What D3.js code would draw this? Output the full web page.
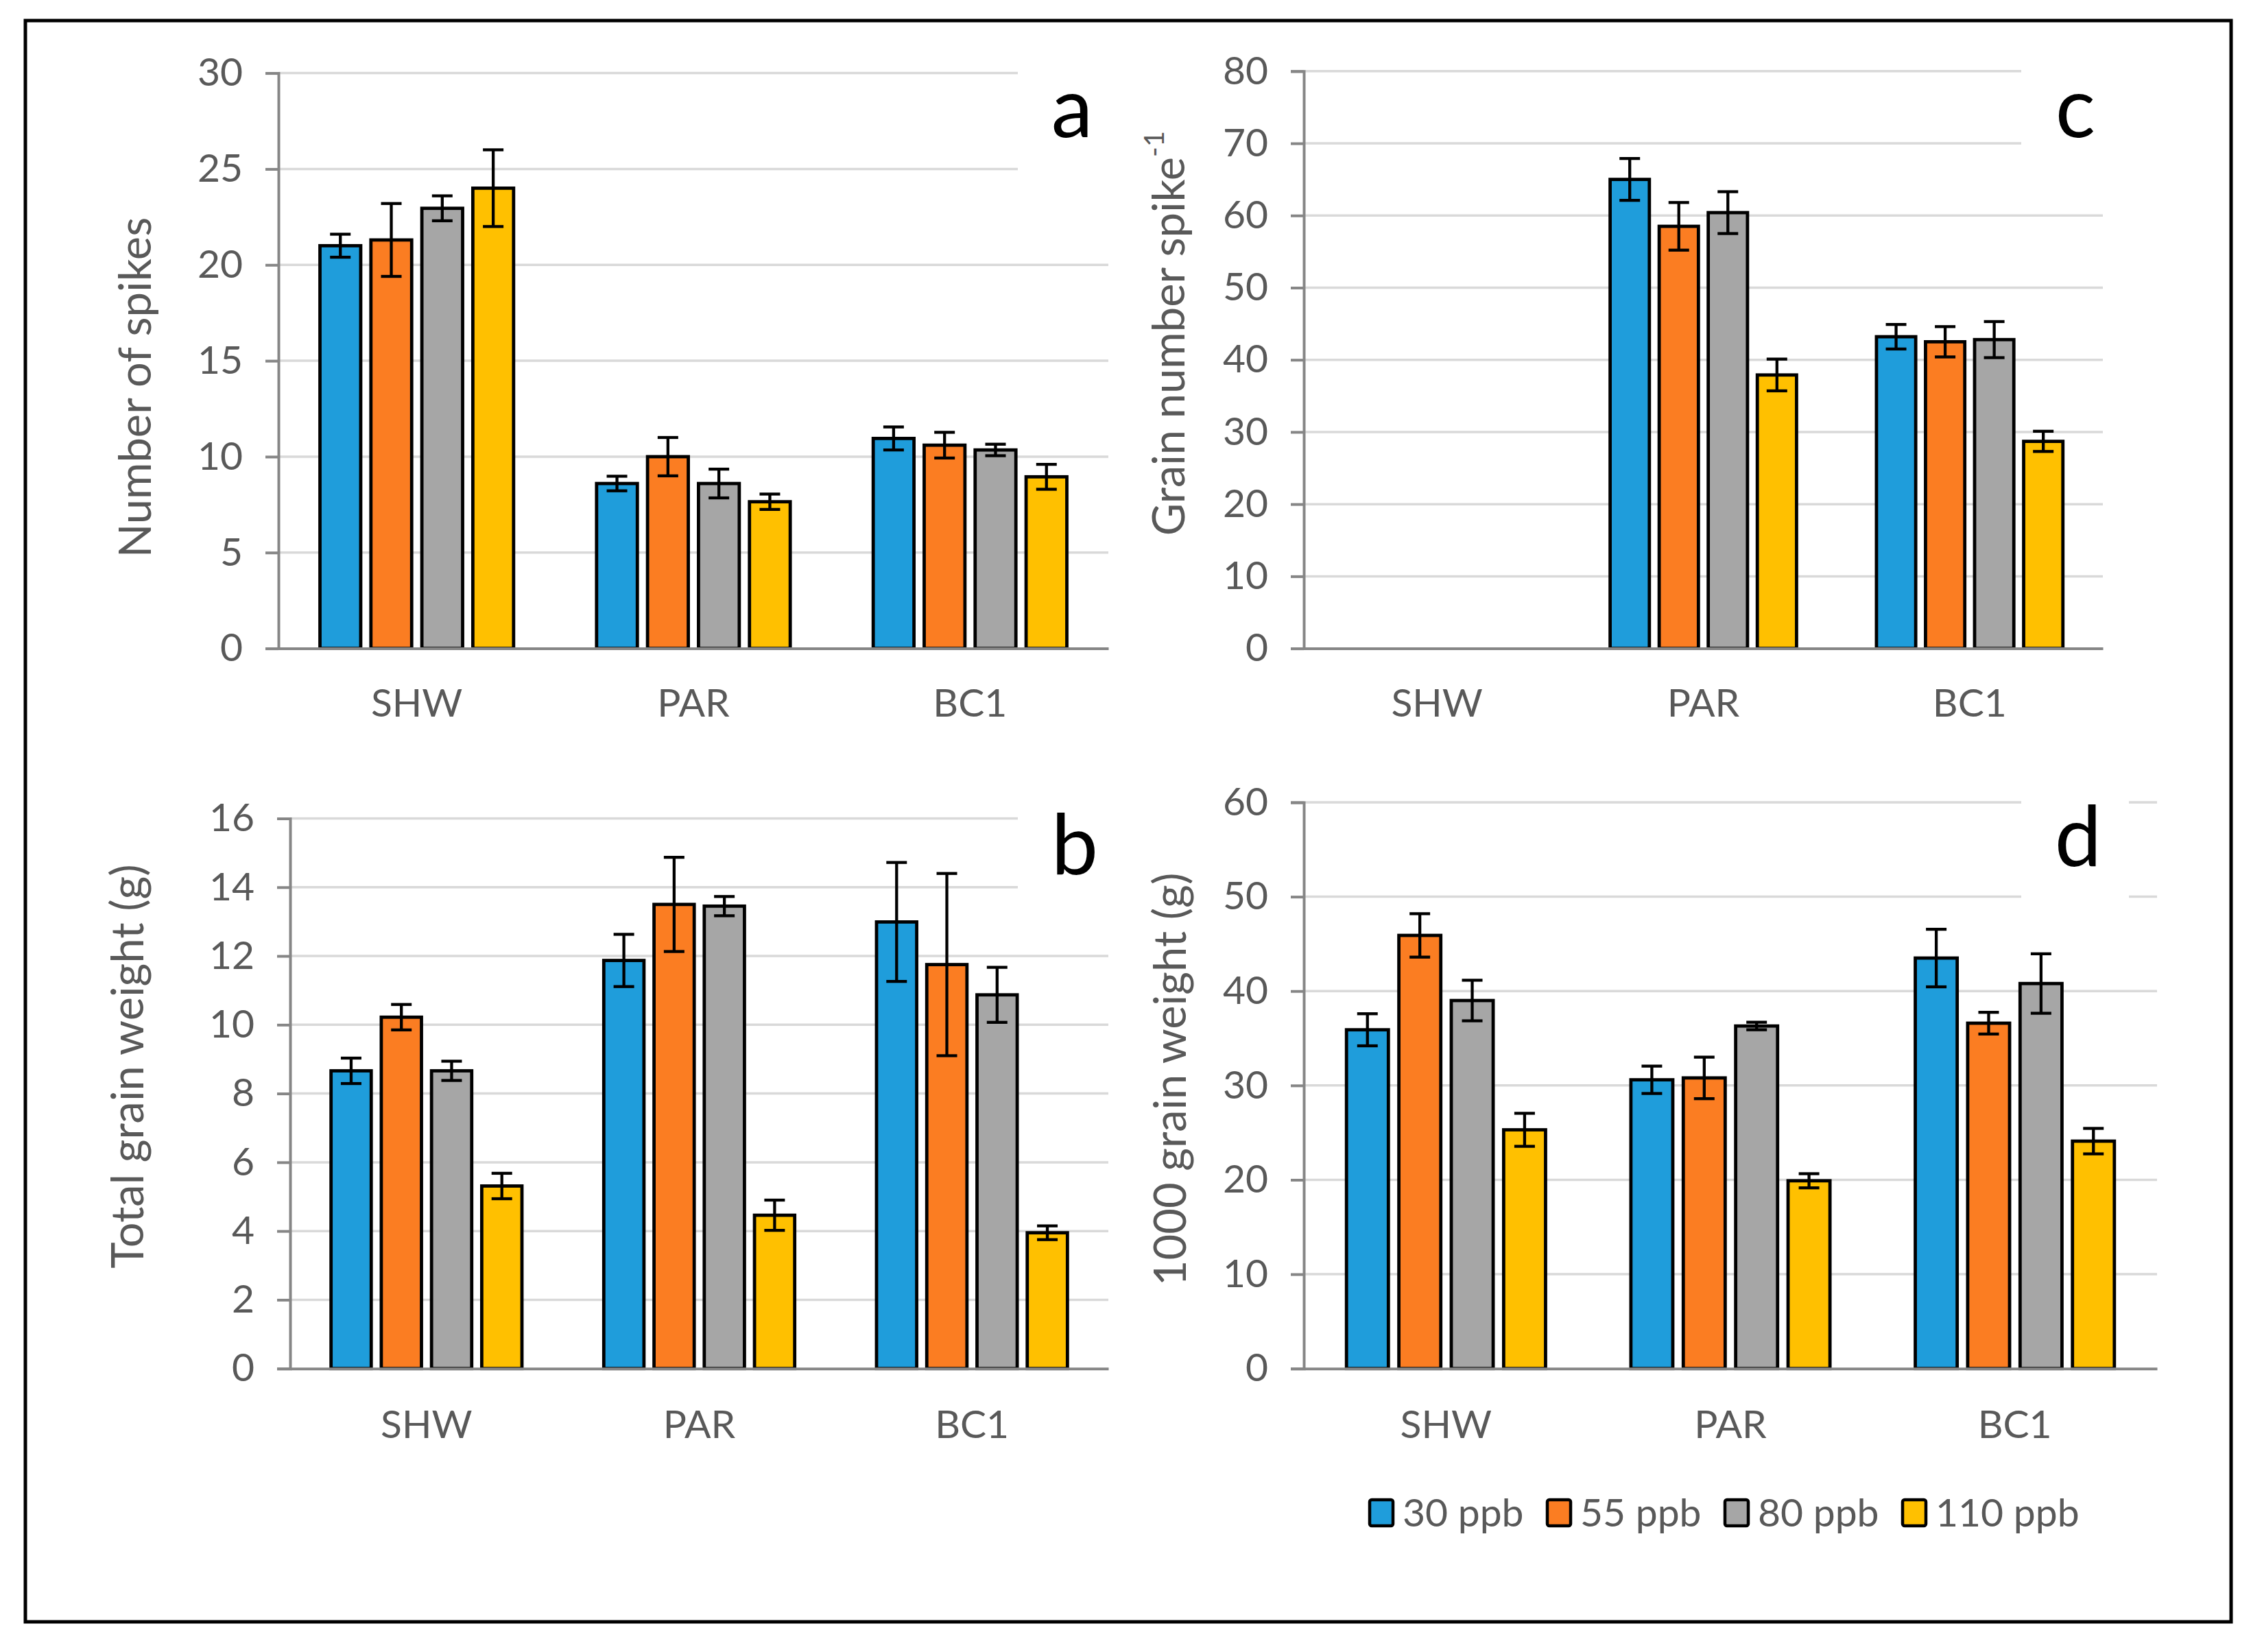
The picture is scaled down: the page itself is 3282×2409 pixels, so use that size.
<!DOCTYPE html>
<html>
<head>
<meta charset="utf-8">
<script src="https://cdn.jsdelivr.net/npm/d3@7"></script>
<style>
  body { margin: 0; background: #fff; }
  text { font-family: Lato, "Open Sans", sans-serif; fill: #595959; }
</style>
</head>
<body>
<svg id="fig" width="3282" height="2409"></svg>
<script>
// categories and series
var categories = ["SHW", "PAR", "BC1"];
var seriesNames = ["30 ppb", "55 ppb", "80 ppb", "110 ppb"];

// a: number of spikes (rows = category, cols = series)
var spikesMean = [[21.0, 21.3, 22.95, 24.0], [8.6, 10.0, 8.6, 7.65], [10.95, 10.6, 10.35, 8.95]];
var spikesErr  = [[0.6, 1.9, 0.65, 2.0], [0.38, 1.0, 0.75, 0.4], [0.6, 0.67, 0.3, 0.65]];
var spikesTicks = [0, 5, 10, 15, 20, 25, 30];

// b: total grain weight (g)
var weightMean = [[8.66, 10.22, 8.66, 5.31], [11.87, 13.5, 13.45, 4.46], [12.99, 11.75, 10.87, 3.95]];
var weightErr  = [[0.37, 0.37, 0.28, 0.37], [0.76, 1.37, 0.28, 0.44], [1.73, 2.65, 0.8, 0.2]];
var weightTicks = [0, 2, 4, 6, 8, 10, 12, 14, 16];

// c: grain number per spike (SHW missing)
var grainMean = [[null, null, null, null], [65.0, 58.5, 60.4, 37.9], [43.2, 42.5, 42.8, 28.7]];
var grainErr  = [[null, null, null, null], [2.9, 3.3, 2.9, 2.2], [1.7, 2.1, 2.5, 1.4]];
var grainTicks = [0, 10, 20, 30, 40, 50, 60, 70, 80];

// d: 1000 grain weight (g)
var tgwMean = [[35.9, 45.9, 39.0, 25.3], [30.6, 30.8, 36.3, 19.9], [43.5, 36.6, 40.8, 24.1]];
var tgwErr  = [[1.7, 2.3, 2.15, 1.75], [1.45, 2.2, 0.4, 0.75], [3.05, 1.15, 3.15, 1.35]];
var tgwTicks = [0, 10, 20, 30, 40, 50, 60];

var colors = ["#1f9ddb", "#fb7d22", "#a6a6a6", "#ffc000"];

var svg = d3.select("#fig");

var color = d3.scaleOrdinal().domain(seriesNames).range(colors);

function drawPanel(p) {
  var g = svg.append("g");
  var x0 = d3.scaleBand().domain(categories).range([p.left, p.right]).padding(0);
  var y = d3.scaleLinear().domain([0, d3.max(p.ticks)]).range([p.bottom, p.top]);
  var bw = x0.bandwidth();
  var gw = bw * 0.70;

  // gridlines
  g.selectAll(".grid").data(p.ticks.filter(function(t){ return t > 0; }))
    .enter().append("line")
    .attr("x1", p.left).attr("x2", p.right)
    .attr("y1", function(d){ return y(d); }).attr("y2", function(d){ return y(d); })
    .attr("stroke", "#d9d9d9").attr("stroke-width", 3.5);

  // white box behind the panel letter
  g.append("rect")
    .attr("x", p.boxX0).attr("y", p.top - 20)
    .attr("width", p.boxX1 - p.boxX0).attr("height", y(p.ticks[p.ticks.length - 2]) - p.top + 40)
    .attr("fill", "#fff");
  g.append("text")
    .attr("x", p.letterX).attr("y", p.letterY)
    .attr("text-anchor", "middle")
    .style("font-size", "122px").style("fill", "#000")
    .text(p.letter);

  // y axis
  var yAxis = d3.axisLeft(y).tickValues(p.ticks).tickSize(19).tickPadding(33).tickFormat(d3.format("d"));
  var ya = g.append("g").attr("transform", "translate(" + p.left + ",0)").call(yAxis);
  ya.select(".domain").attr("stroke", "#868686").attr("stroke-width", 4);
  ya.selectAll(".tick line").attr("stroke", "#868686").attr("stroke-width", 4);
  ya.selectAll(".tick text").style("font-size", "57px").style("fill", "#595959");

  // bars
  categories.forEach(function(cat, ci) {
    var cx = x0(cat) + bw / 2;
    var x1 = d3.scaleBand().domain(seriesNames).range([cx - gw / 2, cx + gw / 2]).paddingInner(0.2);
    seriesNames.forEach(function(s, si) {
      var v = p.mean[ci][si];
      if (v == null) return;
      var e = p.err[ci][si];
      g.append("rect")
        .attr("x", x1(s)).attr("y", y(v))
        .attr("width", x1.bandwidth()).attr("height", y(0) - y(v))
        .attr("fill", color(s)).attr("stroke", "#000").attr("stroke-width", 4.8);
      var mx = x1(s) + x1.bandwidth() / 2;
      var eb = g.append("g").attr("stroke", "#000").attr("stroke-width", 4.3);
      eb.append("line").attr("x1", mx).attr("x2", mx).attr("y1", y(v - e)).attr("y2", y(v + e));
      eb.append("line").attr("x1", mx - 15).attr("x2", mx + 15).attr("y1", y(v + e)).attr("y2", y(v + e));
      eb.append("line").attr("x1", mx - 15).attr("x2", mx + 15).attr("y1", y(v - e)).attr("y2", y(v - e));
    });
  });

  // x axis
  var xAxis = d3.axisBottom(x0).tickSize(0).tickPadding(0);
  var xa = g.append("g").attr("transform", "translate(0," + p.bottom + ")").call(xAxis);
  xa.select(".domain").attr("stroke", "#868686").attr("stroke-width", 4);
  xa.selectAll(".tick text").attr("dy", null).attr("y", p.catY - p.bottom)
    .style("font-size", "57px").style("fill", "#595959");

  // y title
  var t = g.append("text")
    .attr("transform", "translate(" + p.titleX + "," + p.titleY + ") rotate(-90)")
    .attr("text-anchor", "middle").attr("dy", "0.35em")
    .style("font-size", "65px");
  t.append("tspan").text(p.title);
  if (p.sup) {
    t.append("tspan").attr("dy", "-0.75em").style("font-size", "40px").text(p.sup);
  }
}

drawPanel({letter: "a", title: "Number of spikes", mean: spikesMean, err: spikesErr, ticks: spikesTicks,
  left: 406, right: 1616, top: 106.6, bottom: 945.6, catY: 1045,
  boxX0: 1484, boxX1: 1645, letterX: 1563, letterY: 200, titleX: 197, titleY: 565});
drawPanel({letter: "b", title: "Total grain weight (g)", mean: weightMean, err: weightErr, ticks: weightTicks,
  left: 423, right: 1616, top: 1193.5, bottom: 1995.7, catY: 2097,
  boxX0: 1484, boxX1: 1645, letterX: 1567, letterY: 1275, titleX: 186, titleY: 1555});
drawPanel({letter: "c", title: "Grain number spike", sup: "-1", mean: grainMean, err: grainErr, ticks: grainTicks,
  left: 1901, right: 3066, top: 103.8, bottom: 945.6, catY: 1045,
  boxX0: 2947, boxX1: 3104, letterX: 3026, letterY: 200, titleX: 1704, titleY: 486});
drawPanel({letter: "d", title: "1000 grain weight (g)", mean: tgwMean, err: tgwErr, ticks: tgwTicks,
  left: 1901, right: 3145, top: 1170, bottom: 1995.7, catY: 2097,
  boxX0: 2947, boxX1: 3104, letterX: 3030, letterY: 1263, titleX: 1706, titleY: 1574});

// legend
var legend = svg.append("g");
var lx = d3.scalePoint().domain(seriesNames).range([1997, 2774]);
seriesNames.forEach(function(s) {
  legend.append("rect")
    .attr("x", lx(s)).attr("y", 2187).attr("width", 34).attr("height", 38)
    .attr("rx", 3)
    .attr("fill", color(s)).attr("stroke", "#000").attr("stroke-width", 4.5);
  legend.append("text")
    .attr("x", lx(s) + 48).attr("y", 2206).attr("dy", "0.35em")
    .style("font-size", "57px").text(s);
});

// outer frame
svg.append("rect")
  .attr("x", 37).attr("y", 30).attr("width", 3216).attr("height", 2335)
  .attr("fill", "none").attr("stroke", "#000").attr("stroke-width", 5);
</script>
</body>
</html>
